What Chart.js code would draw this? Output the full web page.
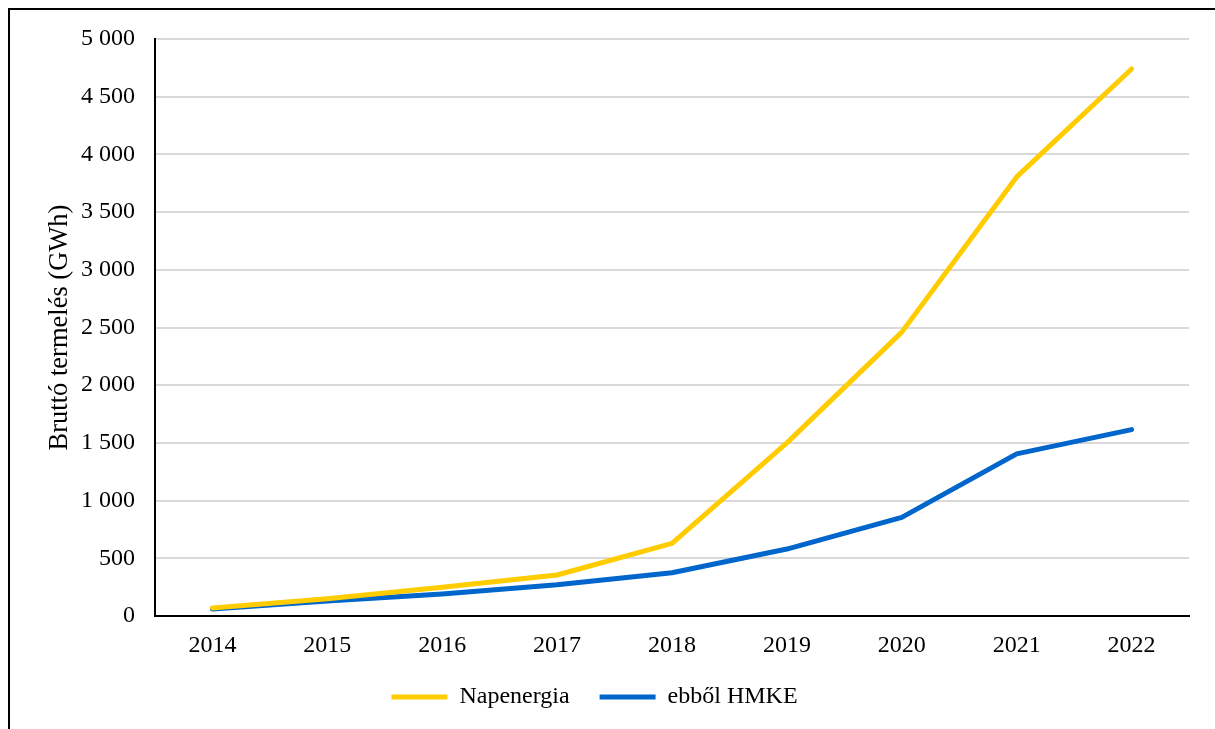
<!DOCTYPE html>
<html>
<head>
<meta charset="utf-8">
<script src="https://cdn.jsdelivr.net/npm/chart.js@4.4.0/dist/chart.umd.min.js"></script>
<style>
  body { margin: 0; background: #fff; }
  #wrap { position: relative; width: 1215px; height: 729px; }
  #frame { position: absolute; left: 8px; top: 8px; right: 0; bottom: 0;
           border-top: 2px solid #000; border-left: 2px solid #000; pointer-events: none; }
</style>
</head>
<body>
<div id="wrap">
  <canvas id="chart"></canvas>
  <div id="frame"></div>
</div>
<script>
// years on the x axis
var years = ["2014", "2015", "2016", "2017", "2018", "2019", "2020", "2021", "2022"];
// gross production, GWh
var solarValues = [70, 150, 250, 355, 630, 1500, 2460, 3805, 4740];
var hmkeValues = [60, 130, 190, 270, 375, 580, 855, 1405, 1615];
var seriesNames = ["Napenergia", "ebből HMKE"];

var serif = "'Liberation Serif', 'Times New Roman', serif";

function spaced(v) {
  return v.toString().replace(/\B(?=(\d{3})+(?!\d))/g, " ");
}

var ctx = document.getElementById("chart").getContext("2d");

var lineChart = new Chart(ctx, {
  type: "line",
  data: {
    labels: years,
    datasets: [{
      label: seriesNames[0],
      data: solarValues,
      borderColor: "#FFCC00",
      backgroundColor: "#FFCC00",
      borderWidth: 5,
      borderCapStyle: "round",
      borderJoinStyle: "round",
      pointRadius: 0,
      tension: 0
    }, {
      label: seriesNames[1],
      data: hmkeValues,
      borderColor: "#0066CC",
      backgroundColor: "#0066CC",
      borderWidth: 5,
      borderCapStyle: "round",
      borderJoinStyle: "round",
      pointRadius: 0,
      tension: 0
    }]
  },
  options: {
    responsive: true,
    maintainAspectRatio: false,
    animation: false,
    layout: {
      padding: { left: 0, top: 39, right: 26, bottom: 10 }
    },
    plugins: {
      tooltip: { enabled: false },
      legend: {
        position: "bottom",
        labels: {
          usePointStyle: true,
          pointStyle: "line",
          pointStyleWidth: 56,
          padding: 30,
          color: "#000",
          font: { family: serif, size: 24 }
        }
      }
    },
    scales: {
      x: {
        offset: true,
        grid: { display: false, drawTicks: false },
        border: { display: true, color: "#000", width: 2 },
        ticks: {
          color: "#000",
          padding: 15,
          font: { family: serif, size: 24 }
        },
        afterFit: function(scale) { scale.height = 39; }
      },
      y: {
        min: 0,
        max: 5000,
        grid: { color: "#d9d9d9", lineWidth: 2, drawTicks: false },
        border: { display: true, color: "#000", width: 2 },
        ticks: {
          stepSize: 500,
          color: "#000",
          padding: 20,
          font: { family: serif, size: 24 },
          callback: function(value) { return spaced(value); }
        },
        title: {
          display: true,
          text: "Bruttó termelés (GWh)",
          color: "#000",
          padding: { top: 44, bottom: 0 },
          font: { family: serif, size: 26.5 }
        },
        afterFit: function(scale) { scale.width = 155; }
      }
    }
  }
});
</script>
</body>
</html>
